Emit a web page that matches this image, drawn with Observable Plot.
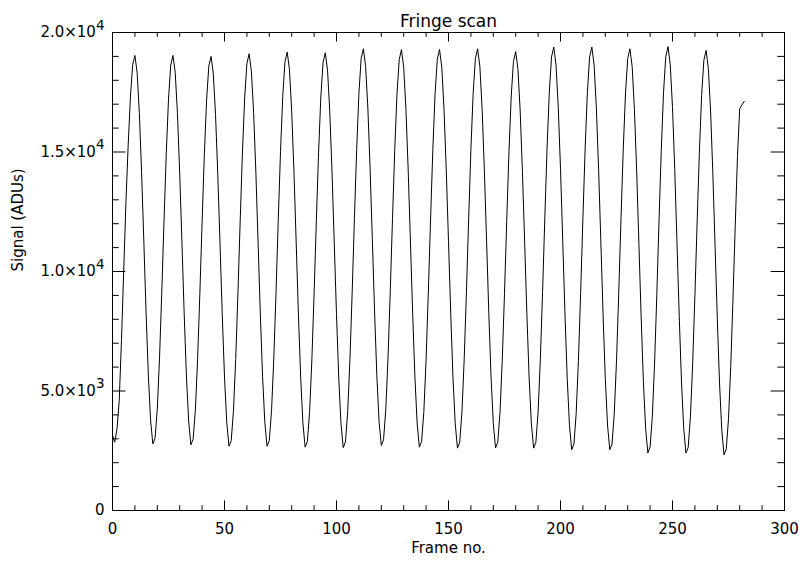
<!DOCTYPE html>
<html>
<head>
<meta charset="utf-8">
<script src="https://cdn.jsdelivr.net/npm/d3@7"></script>
<script src="https://cdn.jsdelivr.net/npm/@observablehq/plot@0.6"></script>
<style>
  html, body { margin: 0; padding: 0; background: #ffffff; }
  #chart { width: 802px; height: 561px; }
</style>
</head>
<body>
<div id="chart"></div>
<script>
// Signal (ADUs) per frame, frames 0..282
const signal = [
  3150, 2860, 3400, 4600, 7100, 10000, 12900, 15300, 17300, 18650, 19040,
  18320, 16610, 14130, 11220, 8260, 5670, 3780, 2790,
  3020, 4250, 6390, 9130, 12110, 14930, 17210, 18640, 19040,
  18320, 16600, 14120, 11200, 8240, 5630, 3740, 2750,
  2980, 4210, 6350, 9090, 12070, 14890, 17170, 18600, 19000,
  18270, 16560, 14070, 11150, 8190, 5580, 3690, 2690,
  2930, 4170, 6320, 9100, 12110, 14960, 17260, 18710, 19110,
  18380, 16650, 14150, 11200, 8220, 5600, 3690, 2690,
  2930, 4180, 6340, 9120, 12150, 15010, 17330, 18780, 19180,
  18440, 16710, 14180, 11220, 8220, 5580, 3660, 2650,
  2890, 4140, 6300, 9090, 12120, 14980, 17300, 18750, 19150,
  18420, 16680, 14160, 11200, 8200, 5550, 3640, 2630,
  2870, 4130, 6320, 9140, 12210, 15100, 17440, 18910, 19320,
  18580, 16840, 14300, 11330, 8310, 5660, 3730, 2720,
  2960, 4210, 6390, 9180, 12220, 15100, 17420, 18870, 19280,
  18540, 16790, 14250, 11270, 8250, 5590, 3660, 2650,
  2890, 4150, 6330, 9140, 12200, 15090, 17420, 18880, 19290,
  18550, 16790, 14250, 11260, 8230, 5560, 3630, 2610,
  2850, 4120, 6310, 9130, 12200, 15100, 17440, 18910, 19320,
  18580, 16820, 14270, 11280, 8250, 5580, 3640, 2620,
  2860, 4110, 6290, 9090, 12130, 15010, 17340, 18790, 19200,
  18460, 16720, 14190, 11210, 8200, 5550, 3620, 2610,
  2850, 4120, 6320, 9160, 12240, 15150, 17500, 18980, 19390,
  18640, 16870, 14300, 11280, 8220, 5520, 3570, 2540,
  2780, 4060, 6270, 9120, 12210, 15130, 17500, 18980, 19390,
  18640, 16870, 14300, 11280, 8220, 5520, 3570, 2540,
  2780, 4050, 6250, 9090, 12170, 15080, 17430, 18910, 19320,
  18570, 16790, 14210, 11180, 8110, 5400, 3440, 2410,
  2660, 3940, 6170, 9040, 12170, 15110, 17500, 18990, 19410,
  18650, 16860, 14270, 11220, 8130, 5410, 3440, 2400,
  2640, 3920, 6130, 8980, 12070, 14990, 17360, 18840, 19250,
  18500, 16720, 14140, 11100, 8030, 5330, 3360, 2330,
  2570, 3840, 6030, 8850, 11910, 14810, 16810, 16970, 17120
];

const xMajorTicks = [0, 50, 100, 150, 200, 250, 300];
const xMinorTicks = [10, 20, 30, 40, 60, 70, 80, 90, 110, 120, 130, 140, 160, 170, 180, 190, 210, 220, 230, 240, 260, 270, 280, 290];
const yMajorTicks = [0, 5000, 10000, 15000, 20000];
const yMinorTicks = [1000, 2000, 3000, 4000, 6000, 7000, 8000, 9000, 11000, 12000, 13000, 14000, 16000, 17000, 18000, 19000];
const yTickLabels = ["0", "5.0×10^3", "1.0×10^4", "1.5×10^4", "2.0×10^4"];

const titleText = "Fringe scan";
const xLabel = "Frame no.";
const yLabel = "Signal (ADUs)";

const data = signal.map((v, i) => ({frame: i, value: v}));

const W = 802, H = 561;
const mL = 112, mR = 18, mT = 32, mB = 51;
const fw = W - mL - mR, fh = H - mT - mB;
const xMaj = 9.6, xMin = 4.8, yMaj = 13.4, yMin = 6.7;

const svg = Plot.plot({
  width: W,
  height: H,
  marginLeft: mL,
  marginRight: mR,
  marginTop: mT,
  marginBottom: mB,
  style: {fontFamily: "'DejaVu Sans', sans-serif", fontSize: "15px", background: "#ffffff", color: "#000"},
  x: {domain: [0, 300], axis: null},
  y: {domain: [0, 20000], axis: null},
  marks: [
    Plot.frame({stroke: "#000", strokeWidth: 1}),
    // bottom ticks
    Plot.tickX(xMajorTicks, {x: d => d, insetTop: fh - xMaj, stroke: "#000"}),
    Plot.tickX(xMinorTicks, {x: d => d, insetTop: fh - xMin, stroke: "#000"}),
    // top ticks
    Plot.tickX(xMajorTicks, {x: d => d, insetBottom: fh - xMaj, stroke: "#000"}),
    Plot.tickX(xMinorTicks, {x: d => d, insetBottom: fh - xMin, stroke: "#000"}),
    // left ticks
    Plot.tickY(yMajorTicks, {y: d => d, insetRight: fw - yMaj, stroke: "#000"}),
    Plot.tickY(yMinorTicks, {y: d => d, insetRight: fw - yMin, stroke: "#000"}),
    // right ticks
    Plot.tickY(yMajorTicks, {y: d => d, insetLeft: fw - yMaj, stroke: "#000"}),
    Plot.tickY(yMinorTicks, {y: d => d, insetLeft: fw - yMin, stroke: "#000"}),
    Plot.axisX(xMajorTicks, {anchor: "bottom", tickSize: 0, tickPadding: 13, label: null, tickFormat: d => String(d), fill: "#000"}),
    Plot.axisY(yMajorTicks, {anchor: "left", tickSize: 0, tickPadding: 8, label: null, tickFormat: (d, i) => yTickLabels[yMajorTicks.indexOf(d)], fill: "#000"}),
    Plot.lineY(data, {x: "frame", y: "value", stroke: "#000", strokeWidth: 1}),
    Plot.text([titleText], {frameAnchor: "top", dy: -18, text: d => d, fontSize: 17, fill: "#000"}),
    Plot.text([xLabel], {frameAnchor: "bottom", dy: 42, text: d => d, fontSize: 15, fill: "#000"}),
    Plot.text([yLabel], {frameAnchor: "left", dx: -94, rotate: -90, text: d => d, fontSize: 15, fill: "#000"})
  ]
});

// superscript exponents on the y tick labels
svg.querySelectorAll('g[aria-label="y-axis tick label"] text').forEach(t => {
  const s = t.textContent;
  const k = s.indexOf("^");
  if (k < 0) return;
  t.textContent = s.slice(0, k);
  const sup = document.createElementNS("http://www.w3.org/2000/svg", "tspan");
  sup.setAttribute("dy", "-0.55em");
  sup.setAttribute("font-size", "0.9em");
  sup.textContent = s.slice(k + 1);
  t.appendChild(sup);
});

document.getElementById("chart").appendChild(svg);
</script>
</body>
</html>
